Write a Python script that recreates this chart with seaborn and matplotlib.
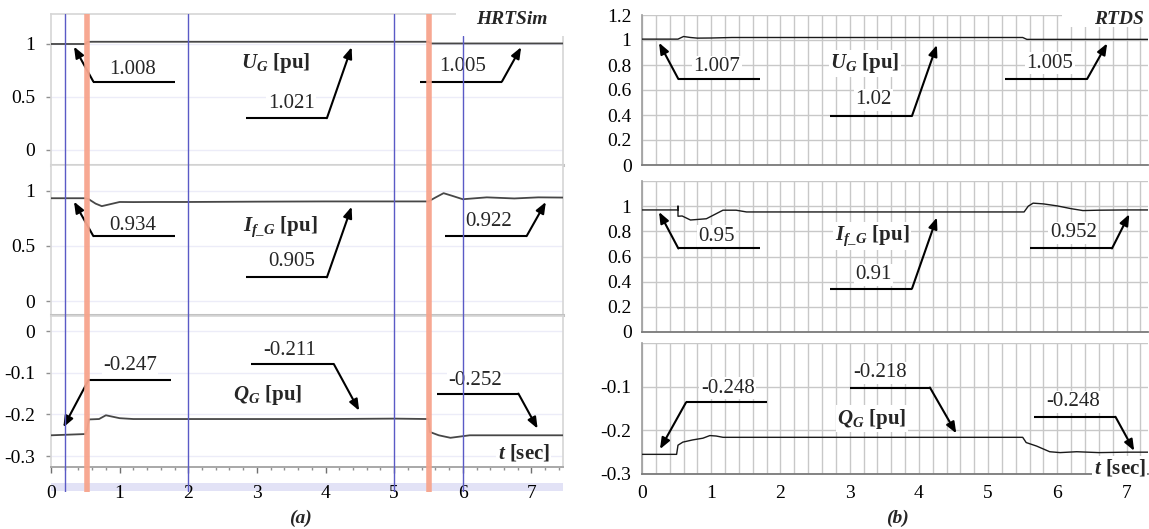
import numpy as np
import pandas as pd
import seaborn as sns
import matplotlib.pyplot as plt
from matplotlib.patches import Rectangle
from matplotlib.ticker import MultipleLocator

# ---------------- (a) HRTSim traces ----------------
hrt_ug_t = [0, 0.5, 0.53, 0.6, 1.0, 2.0, 3.0, 4.0, 5.0, 5.5, 5.53, 6.0, 7.0, 7.46]
hrt_ug_v = [1.0, 1.0, 1.02, 1.021, 1.021, 1.021, 1.021, 1.021, 1.021, 1.021, 1.005, 1.005, 1.005, 1.005]

hrt_if_t = [0, 0.5, 0.55, 0.65, 0.74, 0.85, 1.0, 1.2, 1.5, 2, 3, 4, 5, 5.5,
            5.6, 5.72, 5.85, 6.0, 6.35, 6.75, 7.1, 7.46]
hrt_if_v = [0.934, 0.934, 0.925, 0.885, 0.862, 0.878, 0.9, 0.899, 0.9, 0.9, 0.903, 0.905, 0.905, 0.905,
            0.94, 0.98, 0.955, 0.925, 0.942, 0.932, 0.942, 0.94]

hrt_q_t = [0, 0.5, 0.53, 0.55, 0.7, 0.8, 1.0, 1.2, 2, 3, 4, 5, 5.5,
           5.52, 5.65, 5.82, 6.1, 6.5, 7.0, 7.46]
hrt_q_v = [-0.25, -0.247, -0.235, -0.212, -0.211, -0.202, -0.209, -0.211, -0.211, -0.211, -0.211, -0.21, -0.211,
           -0.242, -0.25, -0.256, -0.25, -0.25, -0.25, -0.25]

# ---------------- (b) RTDS traces ----------------
rt_ug_t = [0, 0.52, 0.6, 0.7, 0.8, 1.0, 1.3, 2, 3, 4, 5, 5.5, 5.56, 6, 7, 7.31]
rt_ug_v = [1.007, 1.007, 1.028, 1.02, 1.015, 1.016, 1.02, 1.02, 1.02, 1.02, 1.02, 1.02, 1.005, 1.005, 1.005, 1.005]

rt_if_t = [0, 0.52, 0.52, 0.52, 0.58, 0.7, 0.93, 1.17, 1.36, 1.51, 2, 3, 4, 5, 5.52,
           5.58, 5.65, 5.8, 6.0, 6.2, 6.37, 6.6, 7, 7.31]
rt_if_v = [0.97, 0.97, 1.0, 0.92, 0.922, 0.89, 0.9, 0.968, 0.968, 0.954, 0.954, 0.954, 0.954, 0.954, 0.954,
           1.0, 1.024, 1.018, 1.002, 0.98, 0.965, 0.968, 0.97, 0.97]

rt_q_t = [0, 0.5, 0.52, 0.59, 0.73, 0.88, 0.98, 1.07, 1.17, 2, 3, 4, 5, 5.5,
          5.55, 5.7, 5.89, 6.04, 6.28, 6.6, 7, 7.31]
rt_q_v = [-0.255, -0.255, -0.234, -0.227, -0.222, -0.218, -0.212, -0.213, -0.216, -0.216, -0.216, -0.216, -0.216, -0.216,
          -0.228, -0.236, -0.249, -0.251, -0.249, -0.251, -0.25, -0.25]

# event markers in (a)
blue_marks = [0.2, 2, 5, 6]
fault_marks = [0.52, 5.51]

# callouts: (arrow tip, elbow, end of leader, text, text position)
hrt_ug_calls = [((0.335, 0.975), (0.617, 0.645), 1.81, '1.008', (1.19, 0.755)),
                ((4.38, 0.97), (4.02, 0.30), 2.84, '1.021', (3.5, 0.44)),
                ((6.85, 0.97), (6.57, 0.645), 5.38, '1.005', (6.0, 0.79))]
hrt_if_calls = [((0.335, 0.903), (0.617, 0.59), 1.81, '0.934', (1.19, 0.69)),
                ((4.38, 0.857), (4.02, 0.215), 2.84, '0.905', (3.5, 0.357)),
                ((7.21, 0.90), (6.93, 0.59), 5.74, '0.922', (6.37, 0.727))]
hrt_q_calls = [((0.18, -0.231), (0.545, -0.118), 1.745, '-0.247', (1.15, -0.082)),
               ((4.49, -0.191), (4.12, -0.079), 2.92, '-0.211', (3.48, -0.047)),
               ((7.09, -0.234), (6.81, -0.15), 5.62, '-0.252', (6.18, -0.118))]
rt_ug_calls = [((0.246, 0.978), (0.525, 0.688), 1.705, '1.007', (1.08, 0.786)),
               ((4.26, 0.96), (3.9, 0.392), 2.72, '1.02', (3.34, 0.52)),
               ((6.72, 0.973), (6.43, 0.688), 5.25, '1.005', (5.89, 0.813))]
rt_if_calls = [((0.246, 0.954), (0.525, 0.664), 1.705, '0.95', (1.08, 0.762)),
               ((4.26, 0.91), (3.9, 0.344), 2.72, '0.91', (3.34, 0.456)),
               ((7.04, 0.936), (6.79, 0.664), 5.6, '0.952', (6.23, 0.79))]
rt_q_calls = [((0.26, -0.243), (0.636, -0.136), 1.81, '-0.248', (1.24, -0.104)),
              ((4.54, -0.207), (4.16, -0.102), 3.0, '-0.218', (3.44, -0.068)),
              ((7.11, -0.247), (6.84, -0.169), 5.66, '-0.248', (6.23, -0.135))]

UG = r'$\mathbfit{U_G}$ [pu]'
IF = r'$\mathbfit{I_{f\_G}}$ [pu]'
QG = r'$\mathbfit{Q_G}$ [pu]'
TS = r'$\mathbfit{t}$ [sec]'

sns.set_theme(style='white')
plt.rcParams['font.family'] = ['Liberation Serif', 'DejaVu Serif']
plt.rcParams['mathtext.fontset'] = 'custom'
plt.rcParams['mathtext.rm'] = 'Liberation Serif'
plt.rcParams['mathtext.it'] = 'Liberation Serif:italic'
plt.rcParams['mathtext.bf'] = 'Liberation Serif:bold'
plt.rcParams['mathtext.bfit'] = 'Liberation Serif:bold:italic'
plt.rcParams['axes.unicode_minus'] = False

W, H = 1149, 529
fig = plt.figure(figsize=(W / 100, H / 100), dpi=100)


def px(x0, y0, x1, y1):
    return [x0 / W, 1 - y1 / H, (x1 - x0) / W, (y1 - y0) / H]


def trace(ax, t, v, color, lw):
    df = pd.DataFrame({'t': t, 'v': v})
    sns.lineplot(data=df, x='t', y='v', ax=ax, color=color, linewidth=lw,
                 sort=False, estimator=None, zorder=4)
    ax.set_xlabel('')
    ax.set_ylabel('')


def callout(ax, calls):
    for tip, elbow, end, label, pos in calls:
        ax.plot([elbow[0], end], [elbow[1], elbow[1]], color='black', lw=1.5, zorder=6,
                solid_capstyle='butt')
        ax.annotate('', xy=tip, xytext=elbow, zorder=6,
                    arrowprops=dict(arrowstyle='-|>,head_length=0.55,head_width=0.22',
                                    color='black', lw=1.5, shrinkA=0, shrinkB=0))
        ax.text(pos[0], pos[1], label, ha='center', va='center', fontsize=15, zorder=5,
                bbox=dict(fc='white', ec='none', pad=1))


def varlabel(ax, x, y, s):
    ax.text(x, y, s, ha='center', va='center', fontsize=15, fontweight='bold', zorder=5,
            bbox=dict(fc='white', ec='none', pad=1))


# ---------------- panel (a) ----------------
hrt_rects = [px(51, 14, 563, 165), px(51, 165, 563, 315), px(51, 316, 563, 467)]
hrt_ylims = [(-0.142, 1.283), (-0.127, 1.236), (-0.326, 0.036)]
hrt_ticks = [[0, 0.5, 1], [0, 0.5, 1], [-0.3, -0.2, -0.1, 0]]
hrt_tlabs = [['0', '0.5', '1'], ['0', '0.5', '1'], ['-0.3', '-0.2', '-0.1', '0']]
hrt_data = [(hrt_ug_t, hrt_ug_v, hrt_ug_calls, UG, (3.27, 0.82)),
            (hrt_if_t, hrt_if_v, hrt_if_calls, IF, (3.34, 0.675)),
            (hrt_q_t, hrt_q_v, hrt_q_calls, QG, (3.15, -0.154))]

for i, (rect, yl, tk, tl, (t, v, calls, name, npos)) in enumerate(
        zip(hrt_rects, hrt_ylims, hrt_ticks, hrt_tlabs, hrt_data)):
    ax = fig.add_axes(rect)
    trace(ax, t, v, '#474747', 1.3)
    ax.set_xlim(0, 7.46)
    ax.set_ylim(*yl)
    ax.set_yticks(tk)
    ax.set_yticklabels(tl)
    for y in tk:
        ax.axhline(y, color='#ececf8', lw=1, zorder=1)
    for s in ['top', 'right', 'left']:
        ax.spines[s].set_color('#d6d6d6')
        ax.spines[s].set_linewidth(1.2)
    ax.spines['bottom'].set_color('#c2c2c2')
    ax.spines['bottom'].set_linewidth(2.2)
    ax.tick_params(axis='y', which='both', left=True, length=3.6, width=1, color='#909090',
                   pad=8, labelsize=14, labelcolor='black')
    if i < 2:
        ax.set_xticks([])
    else:
        ax.spines['bottom'].set_color('#a8a8a8')
        ax.spines['bottom'].set_linewidth(1.4)
        ax.xaxis.set_major_locator(MultipleLocator(1))
        ax.xaxis.set_minor_locator(MultipleLocator(0.2))
        ax.tick_params(axis='x', which='major', bottom=True, length=4.5, width=1,
                       color='#707070', pad=8.5, labelsize=14, labelcolor='black')
        ax.tick_params(axis='x', which='minor', bottom=True, length=2.5, width=1, color='#909090')
        varlabel(ax, 6.89, -0.293, TS)
    callout(ax, calls)
    varlabel(ax, npos[0], npos[1], name)

# lavender band behind the time labels
fig.add_artist(Rectangle((51 / W, 1 - 491 / H), 512 / W, 8 / H, transform=fig.transFigure,
                         fc='#e2e2f6', ec='none', zorder=-1))

# event lines across the three plots
ov = fig.add_axes(px(51, 14, 563, 492), zorder=5)
ov.set_xlim(0, 7.46)
ov.set_ylim(0, 1)
ov.axis('off')
for m in blue_marks:
    ov.axvline(m, 0, 1 if m < 5.9 else (492 - 36) / (492 - 14), color='#5a5ac6', lw=1)
for m in fault_marks:
    ov.axvline(m, 0, 1, color='#f7a48c', lw=4, alpha=0.95)

fig.add_artist(Rectangle((456 / W, 1 - 36 / H), 112 / W, 36 / H, transform=fig.transFigure,
                         fc='white', ec='none', zorder=9))
fig.text(512 / W, 1 - 20 / H, 'HRTSim', ha='center', va='center', fontsize=14,
         fontweight='bold', fontstyle='italic', zorder=10)
fig.text(300 / W, 1 - 518 / H, '(a)', ha='center', va='center', fontsize=14,
         fontweight='bold', fontstyle='italic')

# ---------------- panel (b) ----------------
rt_rects = [px(642, 15, 1148, 165), px(642, 181, 1148, 332), px(642, 343, 1148, 474)]
rt_ylims = [(0, 1.2), (0, 1.2), (-0.3, 0)]
rt_ticks = [[0, 0.2, 0.4, 0.6, 0.8, 1, 1.2], [0, 0.2, 0.4, 0.6, 0.8, 1, 1.2], [-0.3, -0.2, -0.1, 0]]
rt_tlabs = [['0', '0.2', '0.4', '0.6', '0.8', '1', '1.2'],
            ['0', '0.2', '0.4', '0.6', '0.8', '1', ''],
            ['-0.3', '-0.2', '-0.1', '']]
rt_data = [(rt_ug_t, rt_ug_v, rt_ug_calls, UG, (3.22, 0.813)),
           (rt_if_t, rt_if_v, rt_if_calls, IF, (3.32, 0.762)),
           (rt_q_t, rt_q_v, rt_q_calls, QG, (3.32, -0.173))]

for i, (rect, yl, tk, tl, (t, v, calls, name, npos)) in enumerate(
        zip(rt_rects, rt_ylims, rt_ticks, rt_tlabs, rt_data)):
    ax = fig.add_axes(rect)
    trace(ax, t, v, '#1a1a1a', 1.0)
    ax.set_xlim(0, 7.31)
    ax.set_ylim(*yl)
    ax.set_yticks(tk)
    ax.set_yticklabels(tl)
    ax.xaxis.set_major_locator(MultipleLocator(1))
    ax.xaxis.set_minor_locator(MultipleLocator(0.2))
    ax.grid(True, which='both', axis='x', color='#c8c8c8', lw=1, zorder=1)
    ax.grid(True, which='major', axis='y', color='#c8c8c8', lw=1, zorder=1)
    ax.set_axisbelow(True)
    ax.spines['top'].set_visible(False)
    ax.spines['right'].set_visible(False)
    ax.spines['left'].set_color('#a0a0a0')
    ax.spines['bottom'].set_color('#7a7a7a')
    ax.spines['bottom'].set_linewidth(1.3)
    ax.tick_params(axis='y', length=0, pad=7.5, labelsize=14, labelcolor='black')
    ax.tick_params(axis='x', which='both', length=0, pad=8, labelsize=14, labelcolor='black')
    if i < 2:
        ax.tick_params(axis='x', labelbottom=False)
    else:
        varlabel(ax, 6.9, -0.287, TS)
    callout(ax, calls)
    varlabel(ax, npos[0], npos[1], name)

fig.add_artist(Rectangle((1062 / W, 1 - 27 / H), 87 / W, 27 / H, transform=fig.transFigure,
                         fc='white', ec='none', zorder=9))
fig.text(1119 / W, 1 - 20 / H, 'RTDS', ha='center', va='center', fontsize=14,
         fontweight='bold', fontstyle='italic', zorder=10)
fig.text(897 / W, 1 - 518 / H, '(b)', ha='center', va='center', fontsize=14,
         fontweight='bold', fontstyle='italic')

fig.savefig('out.png', dpi=100)
